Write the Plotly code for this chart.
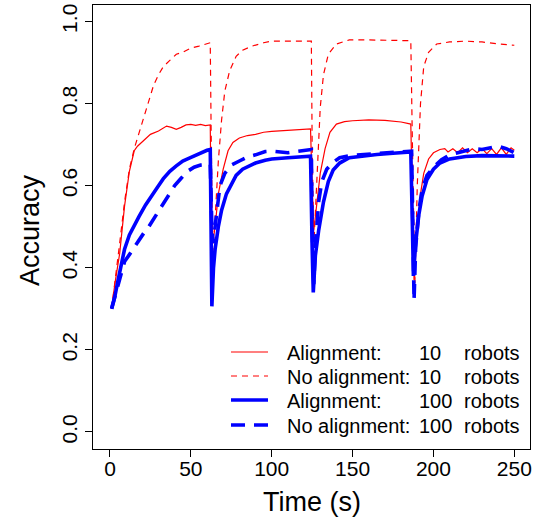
import plotly.graph_objects as go

# ---- data ----
align10_t = [1, 3, 6, 9, 12, 15, 17, 21, 25, 30, 35, 38, 41, 44, 47, 50, 53, 56, 59, 62,
             62.5, 63.5, 65, 67, 70, 73, 76, 80, 85, 90, 95, 100, 110, 120, 124,
             125, 126, 128, 130, 133, 136, 140, 145, 150, 160, 170, 180, 186,
             187, 188, 190, 192, 194, 197, 200, 204, 207, 209, 212, 215, 218, 221, 224,
             227, 230, 233, 236, 239, 242, 245, 248, 250]
align10_v = [0.30, 0.36, 0.435, 0.55, 0.635, 0.685, 0.696, 0.71, 0.725, 0.733, 0.745, 0.742,
             0.737, 0.742, 0.748, 0.749, 0.747, 0.749, 0.746, 0.748,
             0.55, 0.46, 0.50, 0.58, 0.64, 0.685, 0.705, 0.716, 0.722, 0.725, 0.73, 0.732,
             0.735, 0.737, 0.738,
             0.60, 0.49, 0.56, 0.63, 0.69, 0.73, 0.75, 0.756, 0.758, 0.76, 0.759, 0.755, 0.75,
             0.55, 0.37, 0.50, 0.58, 0.63, 0.665, 0.68, 0.688, 0.69, 0.682, 0.69, 0.68, 0.692,
             0.68, 0.69, 0.68, 0.69, 0.678, 0.69, 0.676, 0.692, 0.676, 0.692, 0.686]

noalign10_t = [1, 3, 6, 9, 12, 15, 18, 21, 24, 27, 30, 33, 37, 41, 45, 50, 55, 60, 62,
               62.5, 63.5, 65, 67, 69, 71, 74, 78, 82, 88, 95, 100, 110, 120, 124.5,
               125, 126, 128, 130, 132, 135, 140, 148, 160, 170, 186,
               187, 188.5, 190, 192, 194, 197, 202, 210, 220, 230, 240, 250]
noalign10_v = [0.30, 0.37, 0.46, 0.56, 0.64, 0.69, 0.73, 0.77, 0.81, 0.845, 0.87, 0.89, 0.905,
               0.92, 0.925, 0.935, 0.94, 0.945, 0.948,
               0.75, 0.43, 0.52, 0.66, 0.76, 0.83, 0.88, 0.915, 0.93, 0.94, 0.948, 0.952,
               0.952, 0.952, 0.952,
               0.70, 0.45, 0.62, 0.79, 0.87, 0.92, 0.945, 0.955, 0.955, 0.954, 0.953,
               0.70, 0.36, 0.60, 0.80, 0.89, 0.925, 0.945, 0.95, 0.952, 0.95, 0.945, 0.942]

align100_t = [1, 3, 5, 7, 9, 12, 15, 18, 22, 26, 30, 33, 37, 41, 45, 48, 52, 56, 60, 62,
              62.5, 63, 64, 65, 67, 69, 72, 75, 78, 82, 86, 90, 96, 100, 110, 120, 124,
              125, 125.7, 127, 129, 132, 135, 138, 142, 148, 155, 165, 175, 186,
              187, 187.6, 189, 191, 193, 196, 200, 204, 210, 220, 230, 240, 250]
align100_v = [0.30, 0.33, 0.37, 0.41, 0.445, 0.48, 0.505, 0.525, 0.553, 0.578, 0.60, 0.617,
              0.635, 0.648, 0.66, 0.665, 0.672, 0.68, 0.686, 0.688,
              0.45, 0.306, 0.40, 0.445, 0.50, 0.54, 0.58, 0.605, 0.625, 0.64, 0.648, 0.655,
              0.662, 0.665, 0.668, 0.671, 0.672,
              0.45, 0.34, 0.43, 0.49, 0.56, 0.61, 0.638, 0.655, 0.668, 0.672, 0.676, 0.679,
              0.682,
              0.50, 0.38, 0.46, 0.53, 0.575, 0.615, 0.64, 0.655, 0.665, 0.671, 0.673, 0.672,
              0.672]

noalign100_t = [1, 3, 5, 7, 9, 12, 15, 18, 21, 24, 28, 32, 36, 40, 44, 48, 52, 56, 60, 62,
                63, 63.8, 65, 66.5, 68, 71, 75, 80, 85, 90, 96, 100, 105, 110, 115, 120, 124.5,
                125, 126, 127, 129, 131, 134, 138, 142, 150, 160, 170, 180, 186.5,
                187.5, 188, 189, 191, 193, 196, 200, 205, 210, 215, 220, 225, 230, 235, 240,
                245, 250]
noalign100_v = [0.30, 0.33, 0.36, 0.39, 0.415, 0.432, 0.45, 0.468, 0.485, 0.50, 0.525, 0.55,
                0.575, 0.60, 0.618, 0.635, 0.645, 0.65, 0.651, 0.652,
                0.50, 0.46, 0.50, 0.56, 0.60, 0.63, 0.65, 0.66, 0.67, 0.675, 0.683, 0.684,
                0.682, 0.68, 0.683, 0.686, 0.688,
                0.50, 0.36, 0.45, 0.56, 0.61, 0.64, 0.657, 0.668, 0.674, 0.677, 0.679, 0.682,
                0.684,
                0.45, 0.32, 0.45, 0.54, 0.59, 0.625, 0.645, 0.663, 0.675, 0.68, 0.686, 0.69,
                0.688, 0.693, 0.696, 0.69, 0.68]

x_ticks = [0, 50, 100, 150, 200, 250]
y_ticks = [0.0, 0.2, 0.4, 0.6, 0.8, 1.0]
y_ticklabels = ["0.0", "0.2", "0.4", "0.6", "0.8", "1.0"]

legend_labels = ["Alignment:", "No alignment:", "Alignment:", "No alignment:"]
legend_counts = ["10", "10", "100", "100"]

FONT = "Liberation Sans, Arial, Helvetica, sans-serif"
RED = "#FF0000"
BLUE = "#0000FF"

series = [
    (align10_t, align10_v, RED, 1.2, "solid"),
    (noalign10_t, noalign10_v, RED, 1.2, "6px,5px"),
    (align100_t, align100_v, BLUE, 3.6, "solid"),
    (noalign100_t, noalign100_v, BLUE, 3.6, "14px,9px"),
]

fig = go.Figure()
for t, v, c, w, d in series:
    fig.add_trace(go.Scatter(x=t, y=v, mode="lines",
                             line=dict(color=c, width=w, dash=d),
                             showlegend=False, hoverinfo="skip"))

# manual legend (R-style, no box) and axis titles, placed in pixel terms
L, R_, T, B = 93, 530, 5, 449
def px2paper_x(p):
    return (p - L) / (R_ - L)
def px2paper_y(p):
    return (B - p) / (B - T)

rows_y = [352, 376, 400, 425]
for i, (yy, (_, _, c, w, d)) in enumerate(zip(rows_y, series)):
    fig.add_shape(type="line", xref="paper", yref="paper",
                  x0=px2paper_x(231), x1=px2paper_x(268),
                  y0=px2paper_y(yy), y1=px2paper_y(yy),
                  line=dict(color=c, width=w, dash=d))
    for xx, txt in [(285, legend_labels[i]), (417, legend_counts[i]), (462, "robots")]:
        fig.add_annotation(xref="paper", yref="paper", x=px2paper_x(xx), y=px2paper_y(yy + 1),
                           text=txt, showarrow=False, xanchor="left", yanchor="middle",
                           font=dict(family=FONT, size=20, color="black"))

fig.add_annotation(xref="paper", yref="paper", x=px2paper_x(312), y=px2paper_y(502),
                   text="Time (s)", showarrow=False, xanchor="center", yanchor="middle",
                   font=dict(family=FONT, size=27, color="black"))
fig.add_annotation(xref="paper", yref="paper", x=px2paper_x(30), y=px2paper_y(230),
                   text="Accuracy", showarrow=False, xanchor="center", yanchor="middle",
                   textangle=-90,
                   font=dict(family=FONT, size=27, color="black"))

axis_common = dict(showline=True, linecolor="black", linewidth=1, mirror=True,
                   ticks="outside", ticklen=7, tickwidth=1, tickcolor="black",
                   showgrid=False, zeroline=False, automargin=False,
                   tickfont=dict(family=FONT, size=21, color="black"))

fig.update_layout(
    width=544, height=524,
    margin=dict(l=L, r=544 - R_, t=T, b=524 - B, autoexpand=False),
    paper_bgcolor="white", plot_bgcolor="white",
    xaxis=dict(range=[-10.5, 259.7], tickvals=x_ticks, ticklabelstandoff=-6,
               **axis_common),
    yaxis=dict(range=[-0.0415, 1.04], tickvals=y_ticks, ticktext=y_ticklabels,
               tickangle=-90, ticklabelstandoff=0,
               **axis_common),
)

fig.write_html("out.html", config={"displayModeBar": False},
               post_script="document.body.style.margin='0';document.body.style.overflow='hidden';")
